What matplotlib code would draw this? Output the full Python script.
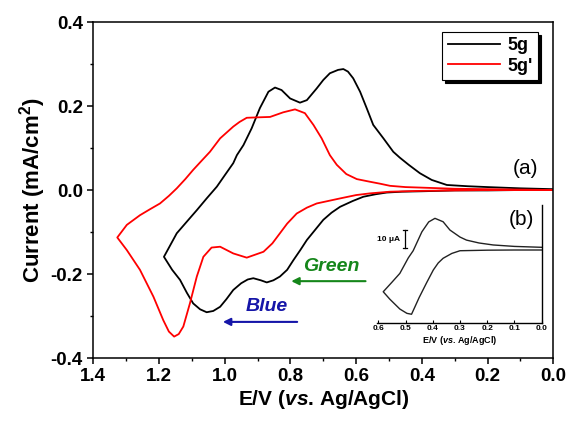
import matplotlib
matplotlib.use('Agg')
import matplotlib.pyplot as plt
from matplotlib.ticker import MultipleLocator

plt.rcParams['font.family'] = ['Liberation Sans', 'DejaVu Sans']
plt.rcParams['font.weight'] = 'bold'
plt.rcParams['axes.unicode_minus'] = False
plt.rcParams['mathtext.fontset'] = 'custom'
plt.rcParams['mathtext.rm'] = 'Liberation Sans:bold'
plt.rcParams['mathtext.it'] = 'Liberation Sans:italic:bold'
plt.rcParams['mathtext.bf'] = 'Liberation Sans:bold'

# 5g : anodic scan 0 -> 1.185 V, then cathodic back to 0
black_E = [0.00, 0.10, 0.20, 0.26, 0.324, 0.37, 0.406, 0.44, 0.467, 0.487, 0.517, 0.548, 0.568,
           0.588, 0.609, 0.625, 0.639, 0.655, 0.68, 0.70, 0.72, 0.75, 0.771, 0.801, 0.827, 0.847,
           0.867, 0.893, 0.918, 0.943, 0.963, 0.974, 1.0, 1.024, 1.055, 1.085, 1.115, 1.146, 1.185,
           1.16, 1.136, 1.115, 1.096, 1.075, 1.055, 1.035, 1.014, 0.995, 0.974, 0.95, 0.93, 0.913,
           0.89, 0.872, 0.852, 0.832, 0.81, 0.791, 0.77, 0.75, 0.725, 0.70, 0.675, 0.649, 0.61,
           0.578, 0.54, 0.507, 0.46, 0.40, 0.35, 0.30, 0.20, 0.10, 0.00]
black_I = [0.002, 0.004, 0.007, 0.009, 0.012, 0.024, 0.040, 0.060, 0.077, 0.091, 0.123, 0.155, 0.195,
           0.234, 0.266, 0.282, 0.288, 0.286, 0.278, 0.262, 0.242, 0.214, 0.208, 0.218, 0.238, 0.244,
           0.234, 0.195, 0.147, 0.107, 0.083, 0.064, 0.035, 0.008, -0.020, -0.048, -0.075, -0.103, -0.159,
           -0.190, -0.214, -0.245, -0.270, -0.284, -0.291, -0.288, -0.278, -0.260, -0.238, -0.222, -0.213, -0.210,
           -0.215, -0.220, -0.215, -0.206, -0.190, -0.167, -0.143, -0.119, -0.095, -0.071, -0.054, -0.040, -0.026,
           -0.016, -0.010, -0.006, -0.004, -0.003, -0.002, -0.001, -0.001, 0.000, 0.000]

# 5g'
red_E = [0.00, 0.10, 0.20, 0.30, 0.375, 0.45, 0.497, 0.527, 0.56, 0.598, 0.63, 0.659, 0.68,
         0.705, 0.73, 0.756, 0.786, 0.822, 0.862, 0.90, 0.933, 0.955, 0.974, 1.014, 1.045,
         1.07, 1.096, 1.12, 1.146, 1.17, 1.197, 1.228, 1.258, 1.298, 1.327,
         1.298, 1.258, 1.217, 1.187, 1.17, 1.154, 1.14, 1.126, 1.106, 1.085, 1.065, 1.04,
         1.014, 0.974, 0.933, 0.882, 0.855, 0.832, 0.81, 0.781, 0.75, 0.72, 0.649, 0.60,
         0.558, 0.497, 0.45, 0.40, 0.30, 0.20, 0.00]
red_I = [0.000, 0.001, 0.002, 0.003, 0.005, 0.007, 0.010, 0.015, 0.020, 0.026, 0.038, 0.060, 0.083,
         0.123, 0.155, 0.183, 0.192, 0.185, 0.174, 0.173, 0.172, 0.162, 0.151, 0.123, 0.091,
         0.070, 0.048, 0.026, 0.004, -0.014, -0.032, -0.046, -0.060, -0.083, -0.113,
         -0.143, -0.190, -0.254, -0.310, -0.337, -0.349, -0.343, -0.325, -0.270, -0.206, -0.159, -0.137,
         -0.135, -0.151, -0.161, -0.147, -0.127, -0.103, -0.080, -0.056, -0.042, -0.032, -0.020, -0.012,
         -0.008, -0.004, -0.003, -0.002, -0.001, 0.000, 0.000]

# inset (b), current in uA (relative)
inset_E = [0.00, 0.10, 0.178, 0.23, 0.276, 0.30, 0.337, 0.362, 0.392, 0.415, 0.44, 0.472, 0.49,
           0.521, 0.55, 0.582, 0.558, 0.521, 0.495, 0.478, 0.465, 0.45, 0.423, 0.398, 0.38,
           0.362, 0.33, 0.30, 0.20, 0.10, 0.00]
inset_I = [1.9, 2.4, 3.2, 4.3, 5.9, 7.6, 11.5, 16.1, 18.0, 16.0, 10.5, 0.0, -4.0,
           -12.6, -17.5, -22.8, -26.9, -32.4, -34.8, -35.3, -31.0, -26.0, -17.9, -10.7, -6.8,
           -4.2, -1.5, 0.0, 0.3, 0.4, 0.4]

green = '#15861a'
blue = '#1515a8'

fig = plt.figure(figsize=(5.71, 4.25), dpi=100)
ax = fig.add_axes([0.1634, 0.1576, 0.8056, 0.7906])

ax.plot(black_E, black_I, color='black', lw=1.3, label='5g')
ax.plot(red_E, red_I, color='red', lw=1.3, label="5g'")

ax.set_xlim(1.4, 0.0)
ax.set_ylim(-0.4, 0.4)
ax.xaxis.set_major_locator(MultipleLocator(0.2))
ax.xaxis.set_minor_locator(MultipleLocator(0.1))
ax.yaxis.set_major_locator(MultipleLocator(0.2))
ax.yaxis.set_minor_locator(MultipleLocator(0.1))
ax.xaxis.set_major_formatter(plt.FormatStrFormatter('%.1f'))
ax.yaxis.set_major_formatter(plt.FormatStrFormatter('%.1f'))
ax.tick_params(which='major', direction='out', length=4, width=1.1, labelsize=13.5)
ax.tick_params(which='minor', direction='out', length=2.5, width=1.0)
for s in ax.spines.values():
    s.set_linewidth(1.1)

ax.set_xlabel(r'E/V ($vs$. Ag/AgCl)', fontsize=15, fontweight='bold', labelpad=2)
ax.set_ylabel(r'Current (mA/cm$^2$)', fontsize=16, fontweight='bold', labelpad=2)

leg = ax.legend(loc='upper right', bbox_to_anchor=(0.967, 0.971), fancybox=False,
                shadow={'color': 'black', 'alpha': 1}, edgecolor='black', framealpha=1,
                handlelength=2.9, fontsize=13, borderaxespad=0, borderpad=0.3,
                labelspacing=0.2, handletextpad=0.4)
leg.get_frame().set_linewidth(0.8)

ax.text(0.086, 0.052, '(a)', fontsize=15, fontweight='normal', ha='center', va='center')
ax.text(0.096, -0.071, '(b)', fontsize=15, fontweight='normal', ha='center', va='center')

ax.annotate('', xy=(0.806, -0.217), xytext=(0.563, -0.217),
            arrowprops=dict(arrowstyle='-|>', color=green, lw=1.5, mutation_scale=11))
ax.text(0.677, -0.183, 'Green', color=green, fontsize=14, fontweight='bold',
        fontstyle='italic', ha='center', va='center')
ax.annotate('', xy=(1.014, -0.314), xytext=(0.771, -0.314),
            arrowprops=dict(arrowstyle='-|>', color=blue, lw=1.5, mutation_scale=11))
ax.text(0.872, -0.278, 'Blue', color=blue, fontsize=14, fontweight='bold',
        fontstyle='italic', ha='center', va='center')

# inset
axin = fig.add_axes([0.6602, 0.2407, 0.2884, 0.2769], facecolor='none')
axin.plot(inset_E, inset_I, color='#222222', lw=1.0)
axin.set_xlim(0.605, 0.0)
axin.set_ylim(-40, 25.4)
axin.spines['top'].set_visible(False)
axin.spines['left'].set_visible(False)
axin.spines['right'].set_linewidth(1.0)
axin.spines['bottom'].set_linewidth(1.0)
axin.set_yticks([])
axin.xaxis.set_major_locator(MultipleLocator(0.1))
axin.xaxis.set_major_formatter(plt.FormatStrFormatter('%.1f'))
axin.tick_params(axis='x', direction='in', length=2.5, width=0.8, labelsize=6, pad=2)
axin.set_xlabel(r'E/V ($vs$. Ag/AgCl)', fontsize=6.5, fontweight='bold', labelpad=1)

# 10 uA scale bar
bar_x, bar_lo, bar_hi = 0.5026, 1.5, 11.5
axin.plot([bar_x, bar_x], [bar_lo, bar_hi], color='black', lw=0.9)
axin.plot([bar_x - 0.008, bar_x + 0.008], [bar_lo, bar_lo], color='black', lw=0.9)
axin.plot([bar_x - 0.008, bar_x + 0.008], [bar_hi, bar_hi], color='black', lw=0.9)
axin.text(0.52, 6.5, '10 μA', fontsize=6, fontweight='bold', ha='right', va='center')

fig.savefig('out.png', dpi=100)
